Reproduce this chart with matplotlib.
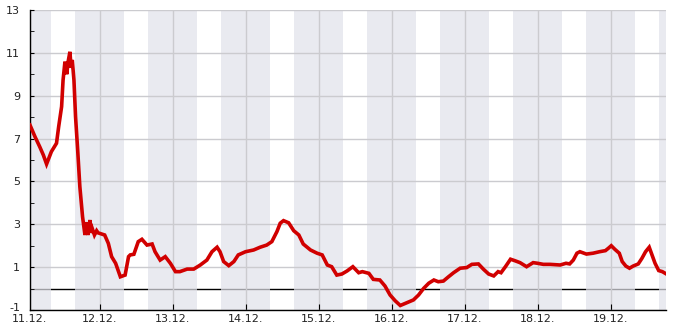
import matplotlib
matplotlib.use("Agg")
import matplotlib.pyplot as plt
from matplotlib.ticker import FixedLocator, MultipleLocator
from matplotlib.transforms import ScaledTranslation

plt.rcParams["axes.unicode_minus"] = False

# time in days since 11.12. 00:00
days = [0.047, 0.115, 0.18, 0.23, 0.274, 0.34, 0.41, 0.44, 0.48, 0.50, 0.526, 0.55,
        0.57, 0.594, 0.61, 0.626, 0.649, 0.671, 0.70, 0.73, 0.767, 0.78, 0.80, 0.82,
        0.84, 0.87, 0.88, 0.90, 0.93, 0.96, 0.98, 1.07, 1.12, 1.165, 1.22, 1.285,
        1.35, 1.397, 1.42, 1.47, 1.53, 1.58, 1.65, 1.72, 1.76, 1.83, 1.90, 1.97,
        2.04, 2.10, 2.20, 2.29, 2.38, 2.47, 2.54, 2.61, 2.65, 2.70, 2.77, 2.84,
        2.90, 3.00, 3.11, 3.20, 3.29, 3.36, 3.43, 3.475, 3.52, 3.59, 3.66, 3.73,
        3.79, 3.89, 3.98, 4.05, 4.12, 4.18, 4.25, 4.32, 4.39, 4.47, 4.55, 4.60,
        4.69, 4.75, 4.84, 4.91, 4.98, 5.05, 5.12, 5.21, 5.30, 5.37, 5.44, 5.51,
        5.58, 5.64, 5.71, 5.78, 5.85, 5.94, 6.03, 6.10, 6.19, 6.26, 6.33, 6.40,
        6.46, 6.50, 6.56, 6.63, 6.69, 6.76, 6.85, 6.94, 7.00, 7.08, 7.17, 7.31,
        7.39, 7.44, 7.49, 7.54, 7.58, 7.67, 7.76, 7.85, 7.93, 7.97, 8.01, 8.06,
        8.12, 8.16, 8.21, 8.26, 8.31, 8.38, 8.43, 8.48, 8.53, 8.56, 8.61, 8.66,
        8.71, 8.75]
level = [7.63, 7.09, 6.62, 6.23, 5.81, 6.39, 6.78, 7.56, 8.49, 9.73, 10.59, 10.0,
         10.6, 11.05, 10.3, 10.67, 9.73, 8.02, 6.47, 4.75, 3.35, 3.0, 2.5, 3.1,
         2.5, 3.2, 2.6, 2.8, 2.5, 2.7, 2.6, 2.5, 2.11, 1.49, 1.18, 0.55,
         0.63, 1.49, 1.57, 1.6, 2.19, 2.3, 2.03, 2.08, 1.72, 1.33, 1.49, 1.18,
         0.79, 0.79, 0.91, 0.91, 1.1, 1.33, 1.72, 1.93, 1.72, 1.26, 1.07, 1.26,
         1.57, 1.72, 1.8, 1.93, 2.03, 2.19, 2.66, 3.05, 3.17, 3.07, 2.7, 2.5,
         2.08, 1.8, 1.65, 1.57, 1.1, 1.02, 0.63, 0.68, 0.82, 1.02, 0.74, 0.79,
         0.71, 0.43, 0.4, 0.12, -0.3, -0.57, -0.79, -0.66, -0.53, -0.3, 0.01, 0.25,
         0.4, 0.32, 0.35, 0.55, 0.74, 0.95, 0.98, 1.13, 1.15, 0.9, 0.68, 0.59,
         0.79, 0.74, 1.02, 1.37, 1.3, 1.21, 1.02, 1.21, 1.18, 1.13, 1.13, 1.1,
         1.18, 1.15, 1.33, 1.65, 1.72, 1.61, 1.65, 1.72, 1.77, 1.88, 2.0, 1.83,
         1.65, 1.26, 1.05, 0.95, 1.05, 1.15, 1.41, 1.72, 1.93, 1.65, 1.18, 0.84,
         0.79, 0.71]

tick_days = [1, 2, 3, 4, 5, 6, 7, 8]
tick_labels = ["12.12.", "13.12.", "14.12.", "15.12.", "16.12.", "17.12.", "18.12.", "19.12."]
first_label = "11.12."
y_ticks = [-1, 1, 3, 5, 7, 9, 11, 13]
y_labels = ["-1", "1", "3", "5", "7", "9", "11", "13"]
x_start, x_end = 0.047, 8.76

fig = plt.figure(figsize=(6.85, 3.30), dpi=100)
ax = fig.add_axes([30 / 685, 20 / 330, 636 / 685, 300 / 330])

# night bands 16:00 -> 08:00
for d in range(0, 10):
    ax.axvspan(d - 1 / 3, d + 1 / 3, color="#e1e2ea", alpha=0.7, lw=0, zorder=0.3)
ax.axhline(0, color="black", lw=1.0, zorder=0.2)

ax.plot(days, level, color="#d10000", lw=2.6, solid_joinstyle="miter", zorder=3)

ax.set_xlim(x_start, x_end)
ax.set_ylim(-1, 13)
ax.xaxis.set_major_locator(FixedLocator([x_start] + tick_days))
ax.set_xticklabels([first_label] + tick_labels)
ax.yaxis.set_major_locator(FixedLocator(y_ticks))
ax.set_yticklabels(y_labels)
ax.yaxis.set_minor_locator(MultipleLocator(2))

ax.set_axisbelow(True)
ax.grid(True, which="major", color="#cbcbcf", lw=1.0)
for s in ("top", "right"):
    ax.spines[s].set_visible(False)
for s in ("left", "bottom"):
    ax.spines[s].set_color("black")
    ax.spines[s].set_linewidth(1.0)

ax.tick_params(axis="both", which="both", direction="in", colors="black",
               labelcolor="#222222", labelsize=8)
ax.tick_params(axis="x", length=4, pad=3)
ax.tick_params(axis="y", which="major", length=3, pad=7)
ax.tick_params(axis="y", which="minor", length=3)
ax.xaxis.get_major_ticks()[0].tick1line.set_visible(False)
# lift the bottom "-1" label a little, as in the original
lab = ax.yaxis.get_major_ticks()[0].label1
lab.set_transform(lab.get_transform() + ScaledTranslation(0, 3 / 100, fig.dpi_scale_trans))

fig.savefig("out.png", dpi=100)
